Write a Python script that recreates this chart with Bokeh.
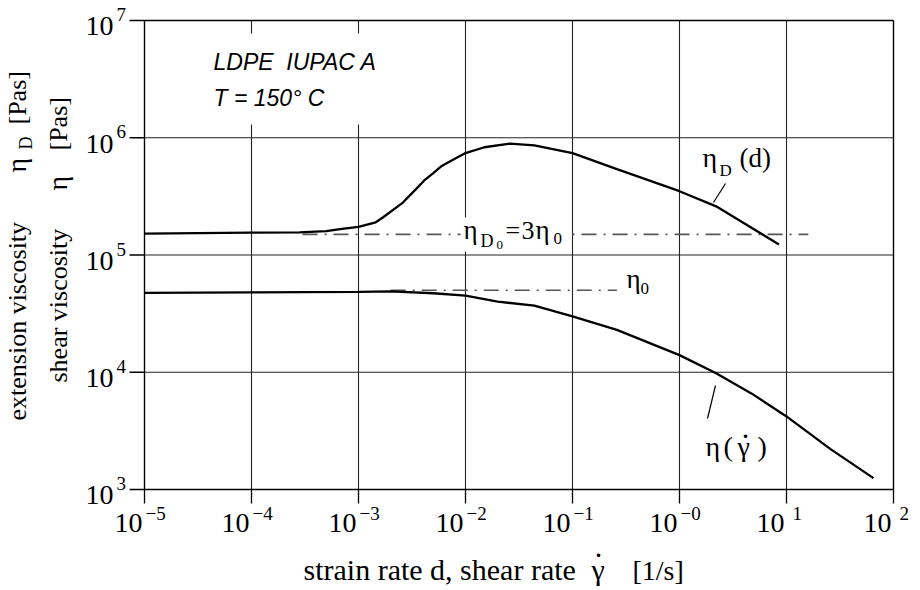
import math
from bokeh.plotting import figure
from bokeh.models import Label, BoxAnnotation, Range1d
from bokeh.embed import file_html
from bokeh.resources import INLINE

# ---------------- data ----------------
x_ticks = [1e-5, 1e-4, 1e-3, 1e-2, 1e-1, 1e0, 1e1, 1e2]
x_tick_exp = ["\u22125", "\u22124", "\u22123", "\u22122", "\u22121", "\u22120", "1", "2"]
y_ticks = [1e3, 1e4, 1e5, 1e6, 1e7]
y_tick_exp = ["3", "4", "5", "6", "7"]

# extensional viscosity eta_D(d)
strain_rate = [1e-5, 1e-4, 2.8e-4, 5e-4, 7e-4, 1e-3, 1.45e-3, 1.7e-3, 2.6e-3, 3.5e-3, 4.2e-3,
               5e-3, 6e-3, 7.2e-3, 1e-2, 1.5e-2, 2.6e-2, 4.4e-2, 1e-1, 0.26, 1.0, 2.2, 8.5]
ext_visc = [1.52e5, 1.55e5, 1.56e5, 1.6e5, 1.67e5, 1.74e5, 1.9e5, 2.1e5, 2.8e5, 3.7e5, 4.4e5,
            5.0e5, 5.75e5, 6.3e5, 7.4e5, 8.3e5, 8.9e5, 8.6e5, 7.4e5, 5.4e5, 3.5e5, 2.6e5,
            1.23e5]

# shear viscosity eta(gamma_dot)
shear_rate = [1e-5, 1e-4, 1e-3, 2e-3, 5e-3, 1e-2, 2e-2, 4.4e-2, 1e-1, 0.26, 1.0, 2.2, 4.7,
              10, 26, 65]
shear_visc = [4.76e4, 4.8e4, 4.85e4, 4.9e4, 4.72e4, 4.5e4, 4.0e4, 3.7e4, 3.0e4, 2.3e4,
              1.4e4, 9.8e3, 6.6e3, 4.2e3, 2.2e3, 1.25e3]

# zero-rate reference levels
eta_D0 = 1.5e5
eta_D0_span = [3e-4, 16]
eta_0 = 5.0e4
eta_0_span = [2e-3, 0.26]

# ---------------- layout (pixels) ----------------
W, H = 910, 588
FL, FR, FT, FB = 144, 893, 20, 489           # plotting box inside the canvas
PXX = (FR - FL) / (math.log10(x_ticks[-1]) - math.log10(x_ticks[0]))
PXY = (FB - FT) / (math.log10(y_ticks[-1]) - math.log10(y_ticks[0]))
SERIF = "Liberation Serif"
SANS = "'Liberation Sans Narrow', 'Liberation Sans', Arial"
TICK = 14
SHIFT = {SERIF: 0.36, SANS: 0.45}   # baseline correction (fraction of font size)


def dx(ix):  # canvas pixel -> data x
    return 10 ** (math.log10(x_ticks[0]) + (ix - FL) / PXX)


def dy(iy):  # canvas pixel -> data y
    return 10 ** (math.log10(y_ticks[-1]) - (iy - FT) / PXY)


p = figure(width=W, height=H, x_axis_type="log", y_axis_type="log",
           x_range=Range1d(dx(0), dx(W)), y_range=Range1d(dy(H), dy(0)),
           x_axis_location=None, y_axis_location=None, min_border=0,
           output_backend="svg", toolbar_location=None)
p.background_fill_color = "white"
p.border_fill_color = "white"
p.outline_line_color = None
p.grid.visible = False

x0, x1 = x_ticks[0], x_ticks[-1]
y0, y1 = y_ticks[0], y_ticks[-1]

# grid lines
p.segment(x0=x_ticks, x1=x_ticks, y0=[y0] * len(x_ticks), y1=[y1] * len(x_ticks),
          line_color="#222222", line_width=1.1)
p.segment(x0=[x0] * len(y_ticks), x1=[x1] * len(y_ticks), y0=y_ticks, y1=y_ticks,
          line_color="#222222", line_width=1.1)
# tick marks (outward)
p.segment(x0=x_ticks, x1=x_ticks, y0=[y0] * len(x_ticks),
          y1=[dy(FB + TICK)] * len(x_ticks), line_color="black", line_width=1.3)
p.segment(x0=[dx(FL - TICK - 1)] * len(y_ticks), x1=[x0] * len(y_ticks),
          y0=y_ticks, y1=y_ticks, line_color="black", line_width=1.3)
# frame
p.segment(x0=[x0, x1, x0, x0], x1=[x0, x1, x1, x1], y0=[y0, y0, y0, y1],
          y1=[y1, y1, y0, y1], line_color="black", line_width=1.3)

# reference (dash-dot) lines
p.line(eta_D0_span, [eta_D0, eta_D0], line_color="#555555", line_width=1.6, line_dash="15 7 2 7")
p.line(eta_0_span, [eta_0, eta_0], line_color="#555555", line_width=1.6, line_dash="15 7 2 7")

# curves
p.line(strain_rate, ext_visc, line_color="black", line_width=2.3)
p.line(shear_rate, shear_visc, line_color="black", line_width=2.3)

# leader lines of the curve labels
p.segment(x0=[dx(725), dx(715)], y0=[dy(183), dy(385)],
          x1=[dx(713), dx(707)], y1=[dy(202), dy(418)],
          line_color="black", line_width=1.2)

# white backgrounds behind in-plot texts
p.add_layout(BoxAnnotation(left=dx(203), right=dx(385), top=dy(33), bottom=dy(124),
                           fill_color="white", fill_alpha=1, line_color=None))
p.add_layout(BoxAnnotation(left=dx(460), right=dx(566), top=dy(217), bottom=dy(251),
                           fill_color="white", fill_alpha=1, line_color=None))


def lab(text, ix, iy, size, align="left", angle=0.0, font=SERIF, style="normal"):
    s = SHIFT[font] * size
    xo, yo = (-s, 0) if angle else (0, s)
    p.add_layout(Label(x=dx(ix), y=dy(iy), text=text, text_font=font,
                       text_font_size=f"{size}px", text_font_style=style,
                       text_align=align, text_baseline="alphabetic",
                       x_offset=xo, y_offset=yo, angle=angle, text_color="black"))


def tick_lab(text, xv, yv, size, xo, yo, align):
    p.add_layout(Label(x=xv, y=yv, text=text, text_font=SERIF, text_font_size=f"{size}px",
                       text_align=align, text_baseline="alphabetic", text_color="black",
                       x_offset=xo, y_offset=yo + SHIFT[SERIF] * size))


# tick labels
for v, e in zip(x_ticks, x_tick_exp):
    tick_lab("10", v, y0, 28, -2, -44, "right")
    tick_lab(e, v, y0, 19, 1 if e.startswith("\u2212") else 6, -31, "left")
for v, e in zip(y_ticks, y_tick_exp):
    tick_lab("10", x0, v, 28, -31, -16, "right")
    tick_lab(e, x0, v, 19, -28, -1, "left")

# axis titles
lab("strain rate d, shear rate", 303, 580, 30)
lab("\u03b3", 591, 580, 30)
lab(".", 598, 558, 30, align="center")
lab("[1/s]", 632, 580, 28)

rot = math.pi / 2
lab("extension viscosity", 26, 420, 26, angle=rot)
lab("\u03b7", 26, 172, 28, angle=rot)
lab("D", 32, 149, 18, angle=rot)
lab("[Pas]", 26, 124, 26, angle=rot)
lab("shear viscosity", 67, 382, 26, angle=rot)
lab("\u03b7", 67, 190, 28, angle=rot)
lab("[Pas]", 67, 150, 26, angle=rot)

# sample info
lab("LDPE\u00a0 IUPAC A", 213, 72, 23, font=SANS, style="italic")
lab("T = 150\u00b0 C", 213, 108, 23, font=SANS, style="italic")

# curve labels
lab("\u03b7", 702, 167, 28)
lab("D", 719, 176, 17)
lab("(d)", 739, 167, 27)

lab("\u03b7", 705, 456, 28)
lab("(", 723, 456, 28)
lab("\u03b3", 737, 456, 28)
lab(".", 745, 439, 30, align="center")
lab(")", 757, 456, 28)

lab("\u03b7", 463, 239, 27)
lab("D", 480, 247, 18)
lab("0", 496, 249, 13)
lab("=", 505, 239, 26)
lab("3", 521, 239, 26)
lab("\u03b7", 535, 239, 27)
lab("0", 553, 244, 17)

lab("\u03b7", 626, 288, 27)
lab("0", 640, 294, 17)

open("out.html", "w").write(file_html(p, INLINE))
